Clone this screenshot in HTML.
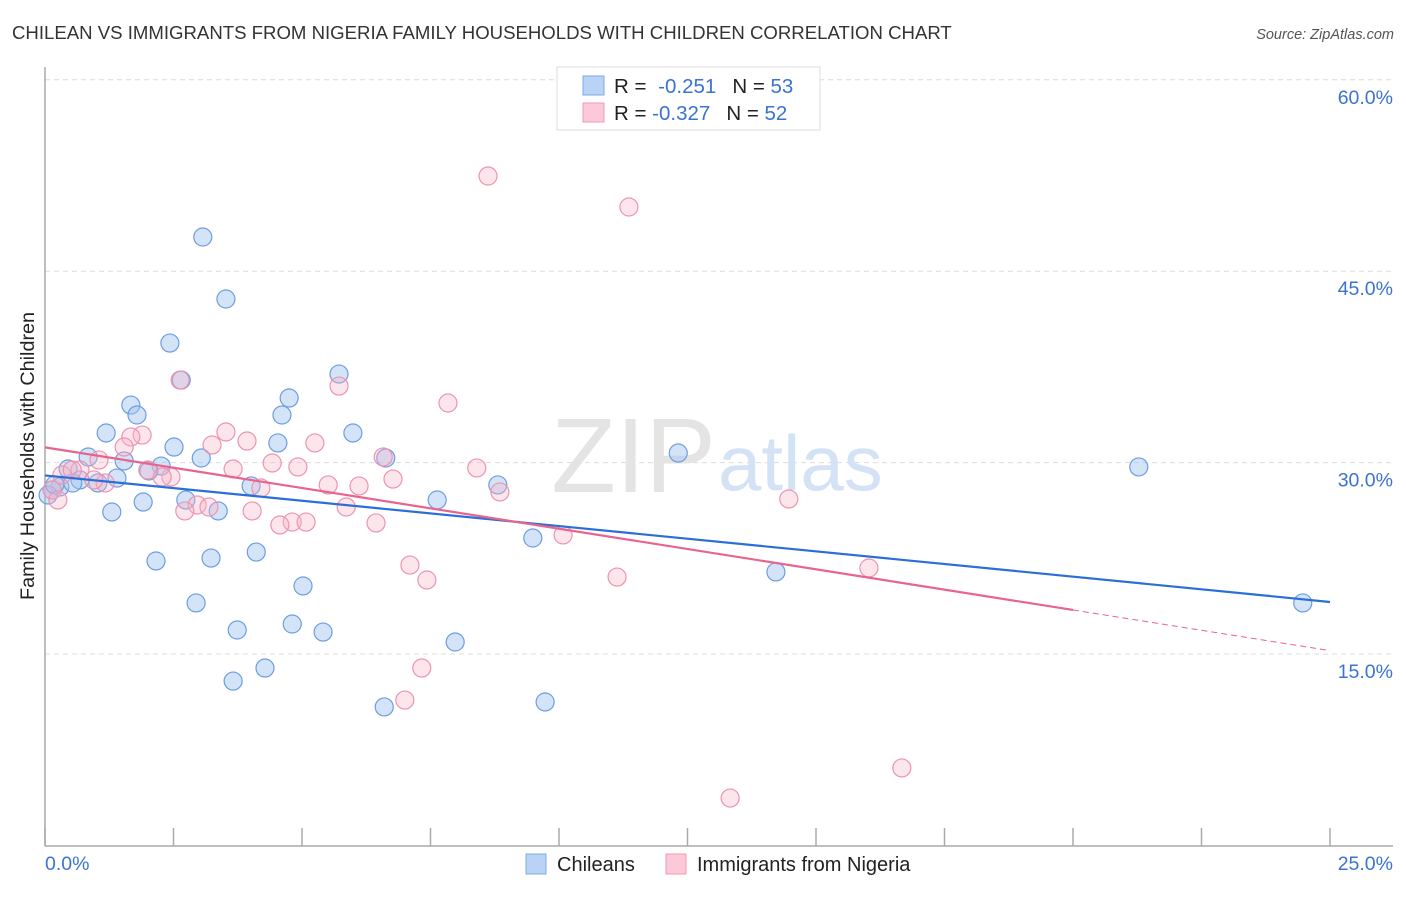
<!DOCTYPE html>
<html><head><meta charset="utf-8"><style>
body{margin:0;background:#fff;font-family:"Liberation Sans",sans-serif;}
svg text{font-family:"Liberation Sans",sans-serif;}
</style></head><body>
<svg id="chart" width="1406" height="892" viewBox="0 0 1406 892">
<text x="12" y="39" font-size="18.6" fill="#333">CHILEAN VS IMMIGRANTS FROM NIGERIA FAMILY HOUSEHOLDS WITH CHILDREN CORRELATION CHART</text>
<text x="1394" y="39" font-size="14.5" fill="#555" font-style="italic" text-anchor="end">Source: ZipAtlas.com</text>
<text x="0" y="0" transform="translate(34,456) rotate(-90)" font-size="19.8" fill="#222" text-anchor="middle">Family Households with Children</text>
<g id="grid"></g>
<text x="716" y="492" font-size="106" fill="#e4e4e4" text-anchor="end" font-family="Liberation Serif">ZIP</text>
<text x="718" y="490" font-size="78" fill="#d4e2f5">atlas</text>
<g id="points"></g>
<g id="lines"></g>
<g>
<rect x="557" y="67" width="263" height="63" fill="#fff" stroke="#ddd"/>
<rect x="583" y="76" width="21" height="19" fill="#b9d3f5" stroke="#7fa8e4"/>
<rect x="583" y="103" width="21" height="19" fill="#fbc9d8" stroke="#f09ab5"/>
<text x="614" y="93" font-size="20.5" fill="#222">R = <tspan fill="#3b73d1" dx="6">-0.251</tspan><tspan dx="16" fill="#222">N = </tspan><tspan fill="#3b73d1">53</tspan></text>
<text x="614" y="120" font-size="20.5" fill="#222">R = <tspan fill="#3b73d1" dx="0">-0.327</tspan><tspan dx="16" fill="#222">N = </tspan><tspan fill="#3b73d1">52</tspan></text>
</g>
<g>
<rect x="526" y="854" width="20" height="20" fill="#b9d3f5" stroke="#7fa8e4"/>
<text x="557" y="871" font-size="20" fill="#222">Chileans</text>
<rect x="666" y="854" width="20" height="20" fill="#fbc9d8" stroke="#f09ab5"/>
<text x="697" y="871" font-size="20" fill="#222">Immigrants from Nigeria</text>
</g>
</svg>
<script>
const yTicks=[15,30,45,60];
const yTickLabels=["15.0%","30.0%","45.0%","60.0%"];
const xTicks=[0,2.5,5,7.5,10,12.5,15,17.5,20,22.5,25];
const xEndLabels=["0.0%","25.0%"];
const blueX=[3.07,3.52,2.43,2.65,5.72,4.75,1.67,1.79,4.61,1.19,5.99,2.51,4.53,0.84,3.04,1.54,6.63,2.26,2.02,12.32,21.28,0.45,0.68,1.40,1.03,0.29,0.14,4.01,8.81,1.91,2.74,7.63,1.30,3.37,9.49,4.11,2.16,3.23,14.22,5.02,2.94,4.81,3.74,5.41,7.98,4.28,3.66,9.73,6.60,24.47,0.06,0.19,0.54];
const blueY=[47.68,42.82,39.37,36.47,36.94,35.06,34.51,33.73,33.73,32.32,32.32,31.22,31.54,30.44,30.36,30.13,30.36,29.73,29.34,30.75,29.66,29.50,28.64,28.79,28.40,28.09,27.85,28.17,28.25,26.91,27.07,27.07,26.13,26.21,24.09,22.99,22.29,22.52,21.43,20.33,19.00,17.35,16.88,16.72,15.94,13.90,12.88,11.24,10.85,19.00,27.46,28.25,28.40];
const pinkX=[8.62,11.36,2.63,5.72,7.84,1.89,1.67,3.52,3.93,3.25,1.54,5.25,6.58,1.05,4.42,4.92,8.40,2.00,2.45,2.28,3.66,0.68,6.77,1.17,4.20,5.51,6.11,8.85,0.95,0.33,0.53,14.47,2.96,2.72,3.19,4.03,5.86,4.81,5.08,4.57,6.44,10.08,7.10,7.43,11.13,16.03,7.33,7.00,16.67,13.33,0.14,0.25];
const pinkY=[52.46,50.03,36.47,36.00,34.67,32.16,32.01,32.40,31.69,31.38,31.22,31.54,30.44,30.20,29.97,29.66,29.58,29.42,28.87,28.87,29.50,29.42,28.71,28.40,28.01,28.25,28.17,27.70,28.64,29.03,29.42,27.15,26.68,26.21,26.52,26.21,26.52,25.34,25.34,25.11,25.27,24.33,21.97,20.80,21.03,21.74,13.90,11.39,6.07,3.71,27.85,27.07];
const NS="http://www.w3.org/2000/svg";
const X0=45,X1=1330,XMAX=25,Y0=845.4,PY=12.76;
function sx(v){return X0+v*(X1-X0)/XMAX;}
function sy(v){return Y0-v*PY;}
function mk(t,a,p){const e=document.createElementNS(NS,t);for(const k in a)e.setAttribute(k,a[k]);p.appendChild(e);return e;}
const grid=document.getElementById('grid');
yTicks.forEach((t,i)=>{
 const l=mk('line',{x1:X0,x2:1393,y1:sy(t),y2:sy(t),stroke:'#dcdcdc','stroke-dasharray':'5,4'},grid);
 
 
 const tx=mk('text',{x:1393,y:sy(t)+24,'font-size':19.5,fill:'#3b73d1','text-anchor':'end'},grid);
 tx.textContent=yTickLabels[i];
 
 
});
const ya=mk('line',{x1:X0,x2:X0,y1:67,y2:846,stroke:'#aaa','stroke-width':1.5},grid);


const xa=mk('line',{x1:X0,x2:1393,y1:846,y2:846,stroke:'#aaa','stroke-width':1.5},grid);


xTicks.forEach(t=>{
 const l=mk('line',{x1:sx(t),x2:sx(t),y1:828,y2:846,stroke:'#aaa','stroke-width':1.5},grid);
 
 
});
[[0,'start'],[25,'end']].forEach((p,i)=>{
 const tx=mk('text',{x:i?1393:45,y:870,'font-size':19.5,fill:'#3b73d1','text-anchor':p[1]},grid);
 tx.textContent=xEndLabels[i];
 
 
});
const pts=document.getElementById('points');
function drawPts(xs,ys,fill,stroke,name){
 xs.forEach((x,i)=>{
  const c=mk('circle',{cx:sx(x),cy:sy(ys[i]),r:9,fill:fill,stroke:stroke,'stroke-width':1.2},pts);
  
  
 });
}
drawPts(blueX,blueY,'rgba(160,195,240,0.45)','#6d9de0','chilean-point');
drawPts(pinkX,pinkY,'rgba(248,180,200,0.35)','#ee93b0','nigeria-point');
function reg(xs,ys){const n=xs.length;let mx=0,my=0;xs.forEach((x,i)=>{mx+=x;my+=ys[i];});mx/=n;my/=n;let a=0,b=0;xs.forEach((x,i)=>{a+=(x-mx)*(ys[i]-my);b+=(x-mx)*(x-mx);});const s=a/b;return [s,my-s*mx];}
const lines=document.getElementById('lines');
const rb=reg(blueX,blueY),rp=reg(pinkX,pinkY);
const bl=mk('line',{x1:sx(0),y1:sy(rb[1]),x2:sx(25),y2:sy(rb[1]+25*rb[0]),stroke:'#2b6fd6','stroke-width':2.2},lines);


const pl=mk('line',{x1:sx(0),y1:sy(rp[1]),x2:sx(20),y2:sy(rp[1]+20*rp[0]),stroke:'#e8648f','stroke-width':2.2},lines);


const pd=mk('line',{x1:sx(20),y1:sy(rp[1]+20*rp[0]),x2:sx(25),y2:sy(rp[1]+25*rp[0]),stroke:'#e8648f','stroke-width':1,'stroke-dasharray':'6,4'},lines);


</script>
</body></html>
